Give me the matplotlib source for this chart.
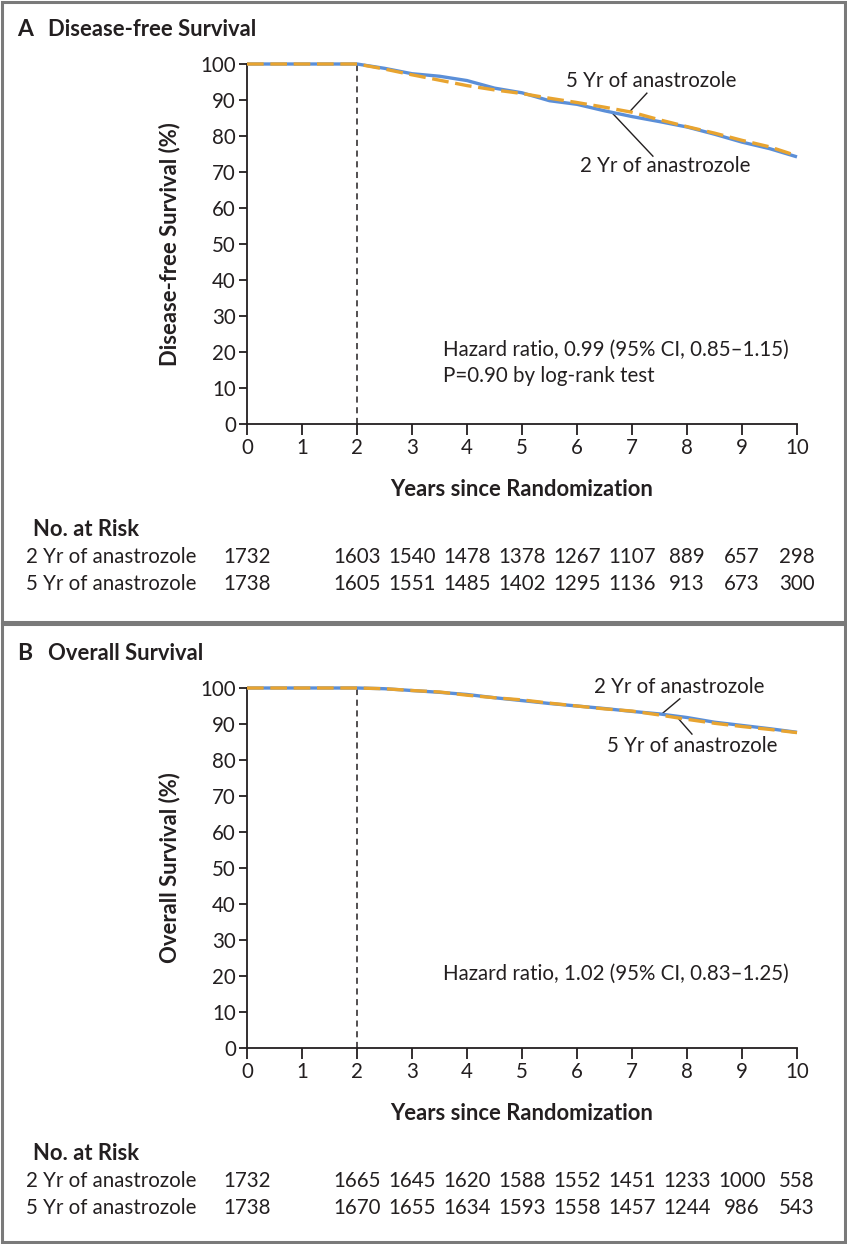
import matplotlib
matplotlib.use("Agg")
import matplotlib.pyplot as plt
import matplotlib.transforms as mtransforms
from matplotlib.patches import Rectangle

plt.rcParams["font.family"] = ["Lato", "DejaVu Sans"]

# ---- data ----
years = [0, 2.0, 2.5, 3.0, 3.5, 4.0, 4.5, 5.0, 5.5, 6.0, 6.5, 7.0, 7.5, 8.0, 8.5, 9.0, 9.5, 10.0]

dfs_2yr = [100, 100, 98.8, 97.3, 96.6, 95.4, 93.3, 92.0, 89.8, 88.8, 87.0, 85.4, 84.0, 82.5, 80.5, 78.3, 76.5, 74.2]
dfs_5yr = [100, 100, 98.6, 97.0, 95.5, 94.0, 92.8, 91.8, 90.5, 89.3, 88.0, 86.6, 84.5, 82.6, 80.8, 78.8, 77.0, 74.5]

os_2yr = [100, 100, 99.8, 99.3, 98.8, 98.2, 97.3, 96.5, 95.7, 95.0, 94.3, 93.5, 92.8, 91.8, 90.5, 89.6, 88.7, 87.7]
os_5yr = [100, 100, 99.8, 99.3, 98.9, 98.0, 97.3, 96.7, 95.8, 95.0, 94.2, 93.6, 92.5, 91.3, 90.2, 89.3, 88.5, 87.6]

risk_years = [0, 2, 3, 4, 5, 6, 7, 8, 9, 10]
dfs_risk_2yr = ["1732", "1603", "1540", "1478", "1378", "1267", "1107", "889", "657", "298"]
dfs_risk_5yr = ["1738", "1605", "1551", "1485", "1402", "1295", "1136", "913", "673", "300"]
os_risk_2yr = ["1732", "1665", "1645", "1620", "1588", "1552", "1451", "1233", "1000", "558"]
os_risk_5yr = ["1738", "1670", "1655", "1634", "1593", "1558", "1457", "1244", "986", "543"]

arm_labels = ["2 Yr of anastrozole", "5 Yr of anastrozole"]

BLUE = "#5b8fd8"
ORANGE = "#e8a430"
INK = "#231f20"
FRAME = "#7a7a7a"

FS = 14.8      # regular text
FS_B = 15.8    # bold labels

W, H = 847, 1244
fig = plt.figure(figsize=(W / 100, H / 100), dpi=100)


def fx(px):
    return px / W


def fy(py):
    return 1 - py / H


# frames
fig.patches.append(Rectangle((fx(1.5), fy(622)), fx(843), fy(1.5) - fy(622),
                             transform=fig.transFigure, fill=False, ec=FRAME, lw=2.2))
fig.patches.append(Rectangle((fx(1.5), fy(1241.5)), fx(843), fy(624.5) - fy(1241.5),
                             transform=fig.transFigure, fill=False, ec=FRAME, lw=2.2))


def panel(top, letter, title, ylabel, s2, s5, risk2, risk5, hr_lines, labels):
    # top: pixel row of the panel frame top
    y100 = top + 64
    y0 = top + 424
    ax = fig.add_axes([fx(247), fy(y0), fx(797) - fx(247), fy(y100) - fy(y0)])
    ax.set_xlim(0, 10)
    ax.set_ylim(0, 100)
    for s in ["top", "right"]:
        ax.spines[s].set_visible(False)
    for s in ["left", "bottom"]:
        ax.spines[s].set_color(INK)
        ax.spines[s].set_linewidth(1.3)
    ax.set_xticks(range(0, 11))
    ax.set_yticks(range(0, 101, 10))
    ax.tick_params(axis="both", colors=INK, labelsize=FS, width=1.3, length=6, pad=2)
    ax.tick_params(axis="x", length=8)
    ax.axvline(2, color=INK, lw=1.1, ls=(0, (4, 3)))

    ax.plot(years, s2, color=BLUE, lw=2.4, clip_on=False, solid_capstyle="butt", zorder=3)
    ax.plot(years, s5, color=ORANGE, lw=2.4, ls=(0, (5, 2)), clip_on=False, zorder=4)

    ax.set_ylabel(ylabel, fontsize=FS_B, fontweight="bold", color=INK, labelpad=14)
    ax.set_xlabel("Years since Randomization", fontsize=FS_B, fontweight="bold",
                  color=INK, labelpad=15)

    for txt, (tx, ty), (lx1, ly1), (lx2, ly2) in labels:
        ax.text(tx, ty, txt, fontsize=FS, color=INK, ha="center", va="center")
        ax.plot([lx1, lx2], [ly1, ly2], color=INK, lw=1.0)

    for i, line in enumerate(hr_lines):
        ax.text(3.56, 20.5 - i * 7.2, line, fontsize=FS, color=INK, ha="left", va="center")

    fig.text(fx(17), fy(top + 30), letter, fontsize=16.5, fontweight="bold", color=INK, va="center")
    fig.text(fx(48), fy(top + 30), title, fontsize=FS_B, fontweight="bold", color=INK, va="center")

    tr = mtransforms.blended_transform_factory(ax.transData, fig.transFigure)
    fig.text(fx(33), fy(top + 529), "No. at Risk", fontsize=FS_B, fontweight="bold",
             color=INK, va="center")
    for row, (lab, vals) in enumerate(zip(arm_labels, [risk2, risk5])):
        yy = fy(top + 557 + row * 27)
        fig.text(fx(26), yy, lab, fontsize=FS, color=INK, va="center")
        for x, v in zip(risk_years, vals):
            ax.text(x, yy, v, transform=tr, fontsize=FS, color=INK, ha="center", va="center")
    return ax


panel(0, "A", "Disease-free Survival", "Disease-free Survival (%)",
      dfs_2yr, dfs_5yr, dfs_risk_2yr, dfs_risk_5yr,
      ["Hazard ratio, 0.99 (95% CI, 0.85\u20131.15)", "P=0.90 by log-rank test"],
      [("5 Yr of anastrozole", (7.35, 95.3), (7.27, 91.9), (6.96, 86.8)),
       ("2 Yr of anastrozole", (7.6, 71.7), (7.38, 74.4), (6.64, 86.4))])

panel(624, "B", "Overall Survival", "Overall Survival (%)",
      os_2yr, os_5yr, os_risk_2yr, os_risk_5yr,
      ["Hazard ratio, 1.02 (95% CI, 0.83\u20131.25)"],
      [("2 Yr of anastrozole", (7.85, 100.4), (7.87, 97.0), (7.55, 92.9)),
       ("5 Yr of anastrozole", (8.1, 83.8), (7.82, 91.9), (8.09, 87.2))])

fig.savefig("out.png", dpi=100)
